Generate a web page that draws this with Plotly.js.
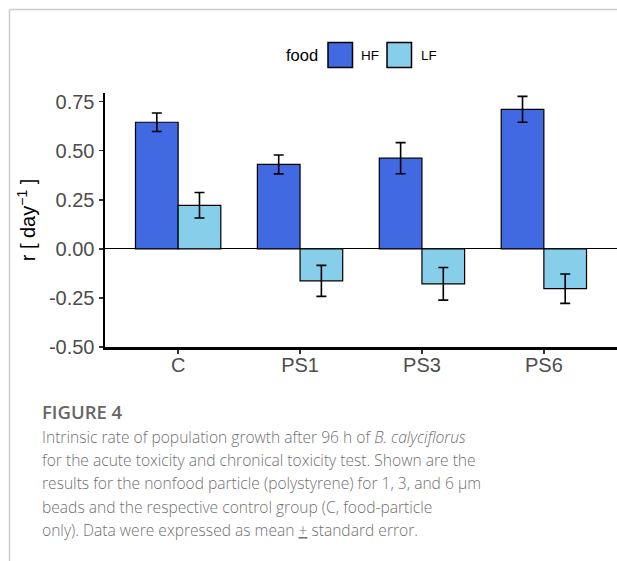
<!DOCTYPE html>
<html>
<head>
<meta charset="utf-8">
<script src="https://cdn.plot.ly/plotly-3.0.1.min.js"></script>
<style>
  html, body { margin: 0; padding: 0; background: #fff; }
  #chart { width: 617px; height: 561px; }
</style>
</head>
<body>
<div id="chart"></div>
<script>
// ---- data ----
var categories = ['C', 'PS1', 'PS3', 'PS6'];
var hfMean = [0.645, 0.430, 0.462, 0.711];
var hfSE   = [0.047, 0.048, 0.079, 0.066];
var lfMean = [0.222, -0.163, -0.178, -0.203];
var lfSE   = [0.065, 0.079, 0.083, 0.075];
var seriesNames = ['HF', 'LF'];
var yTicks = [-0.5, -0.25, 0, 0.25, 0.5, 0.75];
var yTickLabels = ['-0.50', '-0.25', '0.00', '0.25', '0.50', '0.75'];
var captionTitle = 'FIGURE 4';
var captionLines = [
  'Intrinsic rate of population growth after 96 h of <i>B. calyciflorus</i>',
  'for the acute toxicity and chronical toxicity test. Shown are the',
  'results for the nonfood particle (polystyrene) for 1, 3, and 6 μm',
  'beads and the respective control group (C, food-particle',
  'only). Data were expressed as mean <u>+</u> standard error.'
];

// ---- layout geometry (pixels) ----
var FIG_W = 617, FIG_H = 561;
var L = 105, R = 617, T = 93, B = 347;
var W = R - L, H = B - T;
function px(x) { return (x - L) / W; }
function py(y) { return (B - y) / H; }

var HF_COLOR = '#4169E1', LF_COLOR = '#87CEEB';
var FONT = '"Liberation Sans", Arial, sans-serif';
var CAP_FONT = '"Open Sans", sans-serif';

var traces = [
  {
    type: 'bar', name: seriesNames[0], x: categories, y: hfMean,
    marker: { color: HF_COLOR, line: { color: '#000', width: 1.2 } },
    error_y: { type: 'data', array: hfSE, visible: true, color: '#000', thickness: 1.6, width: 5 },
    showlegend: false, hoverinfo: 'skip'
  },
  {
    type: 'bar', name: seriesNames[1], x: categories, y: lfMean,
    marker: { color: LF_COLOR, line: { color: '#000', width: 1.2 } },
    error_y: { type: 'data', array: lfSE, visible: true, color: '#000', thickness: 1.6, width: 5 },
    showlegend: false, hoverinfo: 'skip'
  }
];

var shapes = [
  // outer frame lines
  { type: 'line', xref: 'paper', yref: 'paper', x0: px(9.5), x1: px(617), y0: py(9.5), y1: py(9.5),
    line: { color: '#cccccc', width: 1.5 } },
  { type: 'line', xref: 'paper', yref: 'paper', x0: px(9.5), x1: px(9.5), y0: py(9.5), y1: py(561),
    line: { color: '#cccccc', width: 1.5 } },
  // legend keys
  { type: 'rect', xref: 'paper', yref: 'paper', x0: px(328), x1: px(352.5), y0: py(42.5), y1: py(67.5),
    fillcolor: HF_COLOR, line: { color: '#000', width: 1.5 } },
  { type: 'rect', xref: 'paper', yref: 'paper', x0: px(387), x1: px(411.5), y0: py(42.5), y1: py(67.5),
    fillcolor: LF_COLOR, line: { color: '#000', width: 1.5 } }
];

var annotations = [
  { text: 'food', xref: 'paper', yref: 'paper', x: px(284), y: py(55), xanchor: 'left', yanchor: 'middle',
    showarrow: false, font: { family: FONT, size: 16.5, color: '#000' } },
  { text: seriesNames[0], xref: 'paper', yref: 'paper', x: px(359), y: py(55), xanchor: 'left', yanchor: 'middle',
    showarrow: false, font: { family: FONT, size: 13.5, color: '#000' } },
  { text: seriesNames[1], xref: 'paper', yref: 'paper', x: px(419), y: py(55), xanchor: 'left', yanchor: 'middle',
    showarrow: false, font: { family: FONT, size: 13.5, color: '#000' } },
  { text: captionTitle, xref: 'paper', yref: 'paper', x: px(39.5), y: py(411), xanchor: 'left', yanchor: 'middle',
    showarrow: false, font: { family: CAP_FONT, size: 18.5, color: '#666666', weight: 600 } }
];
var lineY0 = 436.5, lineStep = 23.4;
captionLines.forEach(function (t, i) {
  annotations.push({
    text: t, xref: 'paper', yref: 'paper', x: px(39.5), y: py(lineY0 + i * lineStep),
    xanchor: 'left', yanchor: 'middle', showarrow: false,
    font: { family: CAP_FONT, size: 15.6, color: '#707070', weight: 300 }
  });
});

var layout = {
  width: FIG_W, height: FIG_H,
  margin: { l: L, r: FIG_W - R, t: T, b: FIG_H - B, pad: 0 },
  paper_bgcolor: '#fff', plot_bgcolor: '#fff',
  barmode: 'group', bargap: 0.3, bargroupgap: 0,
  showlegend: false,
  font: { family: FONT },
  xaxis: {
    range: [-0.6, 3.6], showgrid: false, zeroline: false,
    showline: true, linecolor: '#000', linewidth: 2.5,
    ticks: 'outside', ticklen: 4, tickwidth: 1.5, tickcolor: '#333',
    ticklabelstandoff: -6,
    tickfont: { family: FONT, size: 20, color: '#4d4d4d' },
    fixedrange: true
  },
  yaxis: {
    range: [-0.5, 0.794], showgrid: false,
    zeroline: true, zerolinecolor: '#000', zerolinewidth: 1,
    showline: true, linecolor: '#000', linewidth: 2.5,
    ticks: 'outside', ticklen: 4, tickwidth: 1.5, tickcolor: '#333',
    tickmode: 'array', tickvals: yTicks, ticktext: yTickLabels,
    tickfont: { family: FONT, size: 20, color: '#4d4d4d' },
    title: { text: 'r [ day<sup>−1</sup> ]', standoff: 8, font: { family: FONT, size: 20, color: '#000' } },
    fixedrange: true
  },
  shapes: shapes,
  annotations: annotations
};

Plotly.newPlot('chart', traces, layout, { displayModeBar: false, staticPlot: true });
</script>
</body>
</html>
